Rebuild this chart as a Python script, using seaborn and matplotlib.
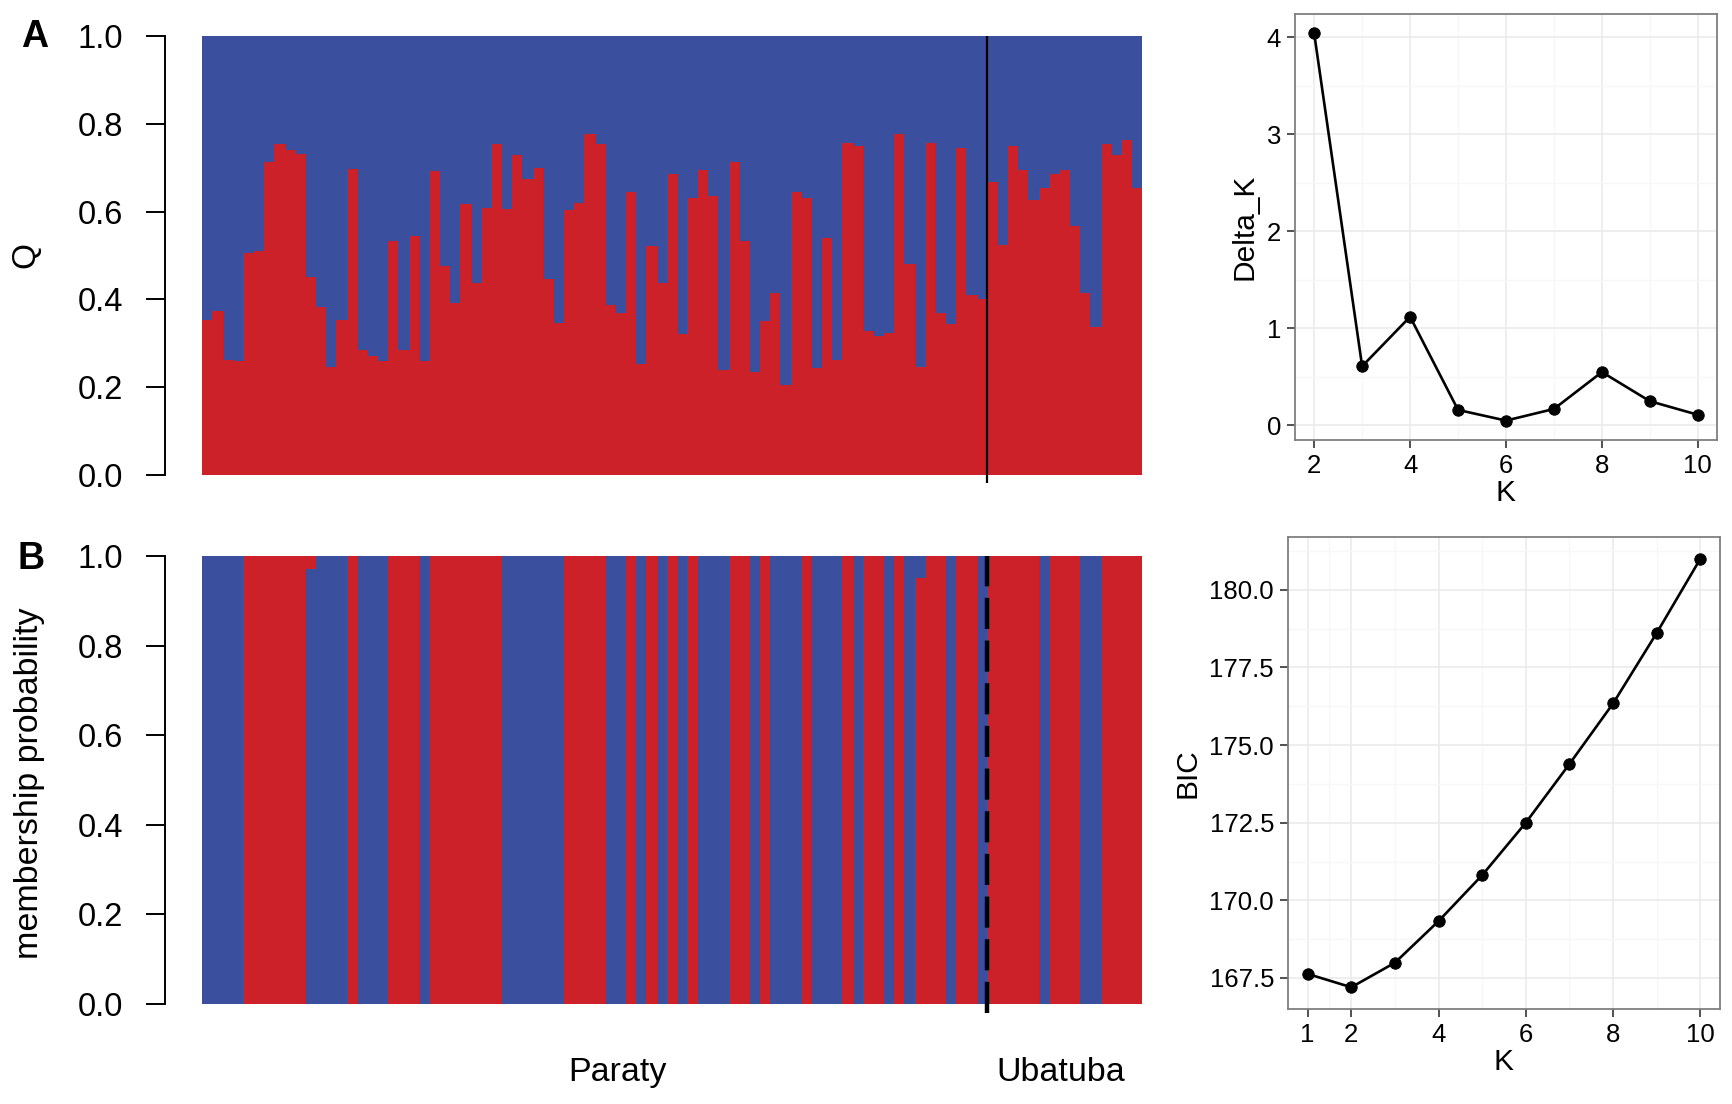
import numpy as np
import pandas as pd
import matplotlib
matplotlib.use("Agg")
import matplotlib.pyplot as plt
import matplotlib.transforms as mtransforms
import seaborn as sns

sns.set_theme(style="white")
plt.rcParams['font.family'] = ['Liberation Sans', 'DejaVu Sans']
plt.rcParams['text.color'] = 'black'
plt.rcParams['axes.labelcolor'] = 'black'
plt.rcParams['xtick.color'] = 'black'
plt.rcParams['ytick.color'] = 'black'

# --- data ---
# STRUCTURE Q (red cluster) per individual, panel A
q_paraty = [0.353, 0.374, 0.262, 0.259, 0.506, 0.511, 0.714, 0.753, 0.741, 0.732,
            0.451, 0.382, 0.247, 0.352, 0.696, 0.284, 0.270, 0.260, 0.532, 0.284,
            0.544, 0.260, 0.692, 0.477, 0.392, 0.617, 0.438, 0.609, 0.754, 0.605,
            0.729, 0.675, 0.700, 0.446, 0.347, 0.603, 0.620, 0.776, 0.754, 0.388,
            0.370, 0.645, 0.252, 0.522, 0.438, 0.685, 0.321, 0.632, 0.694, 0.636,
            0.239, 0.713, 0.532, 0.234, 0.351, 0.414, 0.206, 0.644, 0.632, 0.243,
            0.541, 0.261, 0.757, 0.750, 0.329, 0.316, 0.323, 0.776, 0.481, 0.247,
            0.757, 0.370, 0.343, 0.745, 0.410, 0.402]
q_ubatuba = [0.668, 0.523, 0.749, 0.694, 0.627, 0.654, 0.686, 0.694, 0.568, 0.414,
             0.338, 0.754, 0.728, 0.762, 0.654]

# membership probability of red cluster per individual, panel B
memb_paraty = [0, 0, 0, 0, 1, 1, 1, 1, 1, 1,
               0.03, 0, 0, 0, 1, 0, 0, 0, 1, 1,
               1, 0, 1, 1, 1, 1, 1, 1, 1, 0,
               0, 0, 0, 0, 0, 1, 1, 1, 1, 0,
               0, 1, 0, 1, 0, 1, 0, 1, 0, 0,
               0, 1, 1, 0, 1, 0, 0, 0, 1, 0,
               0, 0, 1, 0, 1, 1, 0, 1, 0, 0.95,
               1, 1, 0, 1, 1, 0]
memb_ubatuba = [1, 1, 1, 1, 1, 0, 1, 1, 1, 0,
                0, 1, 1, 1, 1]

groups = ['Paraty', 'Ubatuba']
group_label_pos = [39.7, 82.6]

k_delta = [2, 3, 4, 5, 6, 7, 8, 9, 10]
delta_k = [4.04, 0.61, 1.12, 0.16, 0.05, 0.17, 0.55, 0.25, 0.11]

k_bic = [1, 2, 3, 4, 5, 6, 7, 8, 9, 10]
bic = [167.63, 167.20, 167.99, 169.33, 170.81, 172.50, 174.39, 176.34, 178.61, 181.00]

RED = '#CC2129'
BLUE = '#3A4F9D'

q_all = q_paraty + q_ubatuba
memb_all = memb_paraty + memb_ubatuba
n_par = len(q_paraty)
idx = list(range(len(q_all)))

dfA = pd.DataFrame({'ind': idx, 'red': q_all, 'one': 1.0})

# dominant cluster is stacked at the bottom in panel B
dfB = pd.DataFrame({'ind': idx, 'p': memb_all})
dfB['dom'] = np.where(dfB['p'] >= 0.5, 'red', 'blue')
dfB['minor'] = np.where(dfB['p'] >= 0.5, 'blue', 'red')
dfB['dom_frac'] = np.maximum(dfB['p'], 1 - dfB['p'])
dfB['one'] = 1.0
pal = {'red': RED, 'blue': BLUE}

fig = plt.figure(figsize=(17.32, 11.04), dpi=100)
W, H = 1732, 1104


def px_axes(x0, y0, x1, y1):
    return fig.add_axes([x0 / W, 1 - y1 / H, (x1 - x0) / W, (y1 - y0) / H])


def r_style(ax):
    for s in ['top', 'right', 'bottom']:
        ax.spines[s].set_visible(False)
    ax.spines['left'].set_position(('outward', 27))
    ax.spines['left'].set_bounds(0, 1)
    ax.spines['left'].set_color('black')
    ax.spines['left'].set_linewidth(1.4)
    ax.set_ylim(0, 1)
    ax.set_xlim(-0.5, len(idx) - 0.5)
    ax.set_yticks([0, 0.2, 0.4, 0.6, 0.8, 1.0])
    ax.set_yticklabels(['0.0', '0.2', '0.4', '0.6', '0.8', '1.0'])
    ax.tick_params(axis='y', left=True, length=13.7, width=1.4, pad=16, labelsize=23.5,
                   colors='black')
    ax.set_xticks([])
    ax.set_xlabel('')
    ax.set_ylabel('')
    ax.set_facecolor('none')


# --- Panel A: Q barplot ---
axA = px_axes(202, 36, 1142, 475)
sns.barplot(data=dfA, x='ind', y='one', color=BLUE, width=1, saturation=1,
            linewidth=0, errorbar=None, ax=axA)
sns.barplot(data=dfA, x='ind', y='red', color=RED, width=1, saturation=1,
            linewidth=0, errorbar=None, ax=axA)
r_style(axA)
axA.vlines(n_par - 0.5, -0.018, 1, color='black', lw=1.6, clip_on=False, zorder=5)

# --- Panel B: membership probability ---
axB = px_axes(202, 556, 1142, 1004)
sns.barplot(data=dfB, x='ind', y='one', hue='minor', palette=pal, dodge=False,
            width=1, saturation=1, linewidth=0, errorbar=None, legend=False, ax=axB)
sns.barplot(data=dfB, x='ind', y='dom_frac', hue='dom', palette=pal, dodge=False,
            width=1, saturation=1, linewidth=0, errorbar=None, legend=False, ax=axB)
r_style(axB)
axB.vlines(n_par - 0.5, -0.02, 1, color='black', lw=3.2, linestyles=(0, (7, 2.6)),
           clip_on=False, zorder=5)
trB = mtransforms.blended_transform_factory(axB.transData, axB.transAxes)
for name, pos in zip(groups, group_label_pos):
    axB.text(pos, -0.152, name, transform=trB, ha='center', va='center', fontsize=24.5)

fig.text(26 / W, 1 - 255 / H, 'Q', rotation=90, ha='center', va='center', fontsize=24)
fig.text(30 / W, 1 - 783 / H, 'membership probability', rotation=90, ha='center',
         va='center', fontsize=24.5)
fig.text(35 / W, 1 - 37 / H, 'A', ha='center', va='center', fontsize=27, fontweight='bold')
fig.text(31 / W, 1 - 559 / H, 'B', ha='center', va='center', fontsize=27, fontweight='bold')


# --- right panels, ggplot theme_bw look ---
def bw_style(ax):
    for s in ax.spines.values():
        s.set_color('#7F7F7F')
        s.set_linewidth(1.3)
    ax.set_facecolor('white')
    ax.grid(True, which='major', color='#EBEBEB', lw=1.2)
    ax.grid(True, which='minor', color='#F7F7F7', lw=1.0)
    ax.set_axisbelow(True)
    ax.tick_params(axis='both', which='major', length=6, width=1.2, color='#333333',
                   labelsize=18.5, labelcolor='black', pad=4, bottom=True, left=True)
    ax.tick_params(axis='both', which='minor', length=0)


axK = px_axes(1295, 14, 1717, 440)
sns.lineplot(x=k_delta, y=delta_k, color='black', lw=1.9, ax=axK)
sns.scatterplot(x=k_delta, y=delta_k, color='black', s=68, edgecolor='black', ax=axK,
                zorder=3)
axK.set_xlim(1.6, 10.4)
axK.set_ylim(-0.15, 4.24)
axK.set_xticks([2, 4, 6, 8, 10])
axK.set_xticks([3, 5, 7, 9], minor=True)
axK.set_yticks([0, 1, 2, 3, 4])
axK.set_yticks([0.5, 1.5, 2.5, 3.5], minor=True)
bw_style(axK)
axK.set_xlabel('K', fontsize=21.5, labelpad=1)
axK.set_ylabel('Delta_K', fontsize=21.5, labelpad=6)

axC = px_axes(1288, 537, 1720, 1009)
sns.lineplot(x=k_bic, y=bic, color='black', lw=1.9, ax=axC)
sns.scatterplot(x=k_bic, y=bic, color='black', s=68, edgecolor='black', ax=axC,
                zorder=3)
axC.set_xlim(0.55, 10.45)
axC.set_ylim(166.5, 181.7)
axC.set_xticks([1, 2, 4, 6, 8, 10])
axC.set_xticks([1.5, 3, 5, 7, 9], minor=True)
yt = [167.5, 170.0, 172.5, 175.0, 177.5, 180.0]
axC.set_yticks(yt)
axC.set_yticklabels([f'{v:.1f}' for v in yt])
axC.set_yticks([168.75, 171.25, 173.75, 176.25, 178.75, 181.25], minor=True)
bw_style(axC)
axC.set_xlabel('K', fontsize=21.5, labelpad=1)
axC.set_ylabel('BIC', fontsize=21.5, labelpad=6)

fig.savefig('out.png', dpi=100)
